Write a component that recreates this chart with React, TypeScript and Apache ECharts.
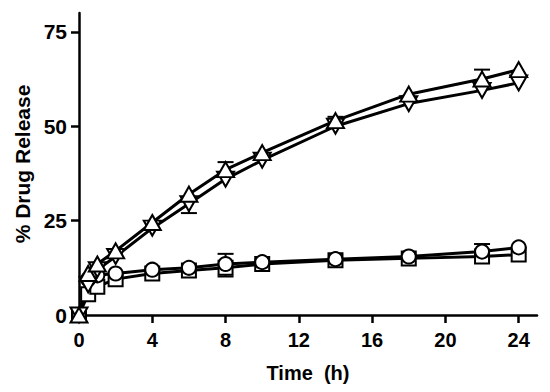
import React, { useEffect, useRef } from "react";
import * as echarts from "echarts";

const times = [0, 0.5, 1, 2, 4, 6, 8, 10, 14, 18, 22, 24];
const upTriangle = [0, 11, 13.5, 17, 24.5, 32, 38.5, 43, 51.5, 58.5, 62.5, 65];
const downTriangle = [0, 8, 12, 15.5, 23, 29.5, 36, 41, 50, 56, 59.5, 61.5];
const circles = [0, 9.5, 10.5, 11, 12, 12.5, 13.5, 14, 14.8, 15.5, 16.8, 17.9];
const squares = [0, 5.5, 7.5, 9.5, 11, 11.8, 12.5, 13.5, 14.5, 15, 15.5, 16];

// signed error bars (positive drawn upward, negative downward)
const upTriangleErr = [0, 0, 0, 0, 0, 0, 2, 0, 1, 0, 2.5, 0];
const downTriangleErr = [0, 0, 0, 0, 0, -2.5, 0, 0, 0, 0, 0, 0];
const circleErr = [0, 0, 0, 0, 0, 0, 2.7, 0, 0, 0, 2, 0];
const squareErr = [0, 0, 0, 0, 0, 0, -2.3, 0, 0, 0, 0, 0];

const xTicks = [0, 4, 8, 12, 16, 20, 24];
const yTicks = [0, 25, 50, 75];

const FONT = "Liberation Sans, Arial, sans-serif";

function errData(vals: number[], errs: number[]) {
  const out: number[][] = [];
  times.forEach((t, i) => {
    if (errs[i] !== 0) out.push([t, vals[i], errs[i]]);
  });
  return out;
}

function pts(vals: number[]) {
  return times.map((t, i) => [t, vals[i]]);
}

const renderErr = (params: any, api: any) => {
  const x = api.value(0);
  const y = api.value(1);
  const e = api.value(2);
  const p0 = api.coord([x, y]);
  const p1 = api.coord([x, y + e]);
  return {
    type: "group",
    children: [
      { type: "line", shape: { x1: p0[0], y1: p0[1], x2: p1[0], y2: p1[1] }, style: { stroke: "#000", lineWidth: 2 } },
      { type: "line", shape: { x1: p1[0] - 8, y1: p1[1], x2: p1[0] + 8, y2: p1[1] }, style: { stroke: "#000", lineWidth: 2 } },
    ],
  };
};

const UP = "path://M5,0L10,9L0,9Z";
const DOWN = "path://M0,0L10,0L5,9Z";

function lineSeries(vals: number[], symbol: string, size: any) {
  return {
    type: "line",
    data: pts(vals),
    symbol,
    symbolSize: size,
    showAllSymbol: true,
    lineStyle: { color: "#000", width: 3 },
    itemStyle: { color: "#fff", borderColor: "#000", borderWidth: 2 },
    z: 3,
  };
}

function errSeries(vals: number[], errs: number[]) {
  return {
    type: "custom",
    data: errData(vals, errs),
    renderItem: renderErr,
    encode: { x: 0, y: 1 },
    z: 1,
  };
}

export default function App() {
  const ref = useRef<HTMLDivElement>(null);
  useEffect(() => {
    const chart = echarts.init(ref.current!, null, { renderer: "svg" });
    chart.setOption({
      animation: false,
      backgroundColor: "#fff",
      grid: { left: 79, right: 13, top: 13, bottom: 77 },
      xAxis: {
        type: "value",
        min: 0,
        max: 25,
        interval: 4,
        name: "Time  (h)",
        nameLocation: "middle",
        nameGap: 48,
        nameTextStyle: { fontFamily: FONT, fontWeight: "bold", fontSize: 20, color: "#000" },
        axisLine: { show: true, lineStyle: { color: "#000", width: 2.5 } },
        axisTick: { show: true, length: 8, lineStyle: { color: "#000", width: 2.5 }, customValues: xTicks },
        axisLabel: { fontFamily: FONT, fontWeight: "bold", fontSize: 20, color: "#000", margin: 15, customValues: xTicks },
        splitLine: { show: false },
      },
      yAxis: {
        type: "value",
        min: 0,
        max: 80,
        interval: 25,
        name: "% Drug Release",
        nameLocation: "middle",
        nameGap: 46,
        nameTextStyle: { fontFamily: FONT, fontWeight: "bold", fontSize: 21, color: "#000" },
        axisLine: { show: true, lineStyle: { color: "#000", width: 2.5 } },
        axisTick: { show: true, length: 8, lineStyle: { color: "#000", width: 2.5 }, customValues: yTicks },
        axisLabel: { fontFamily: FONT, fontWeight: "bold", fontSize: 21, color: "#000", margin: 12, customValues: yTicks },
        splitLine: { show: false },
      },
      series: [
        errSeries(upTriangle, upTriangleErr),
        errSeries(downTriangle, downTriangleErr),
        errSeries(circles, circleErr),
        errSeries(squares, squareErr),
        lineSeries(squares, "rect", 14),
        lineSeries(circles, "circle", 14),
        lineSeries(downTriangle, DOWN, [17, 15]),
        lineSeries(upTriangle, UP, [17, 15]),
      ],
    });
    return () => chart.dispose();
  }, []);
  return (
    <div
      ref={ref}
      style={{ position: "fixed", left: 0, top: 0, width: 550, height: 392, background: "#fff" }}
    />
  );
}
